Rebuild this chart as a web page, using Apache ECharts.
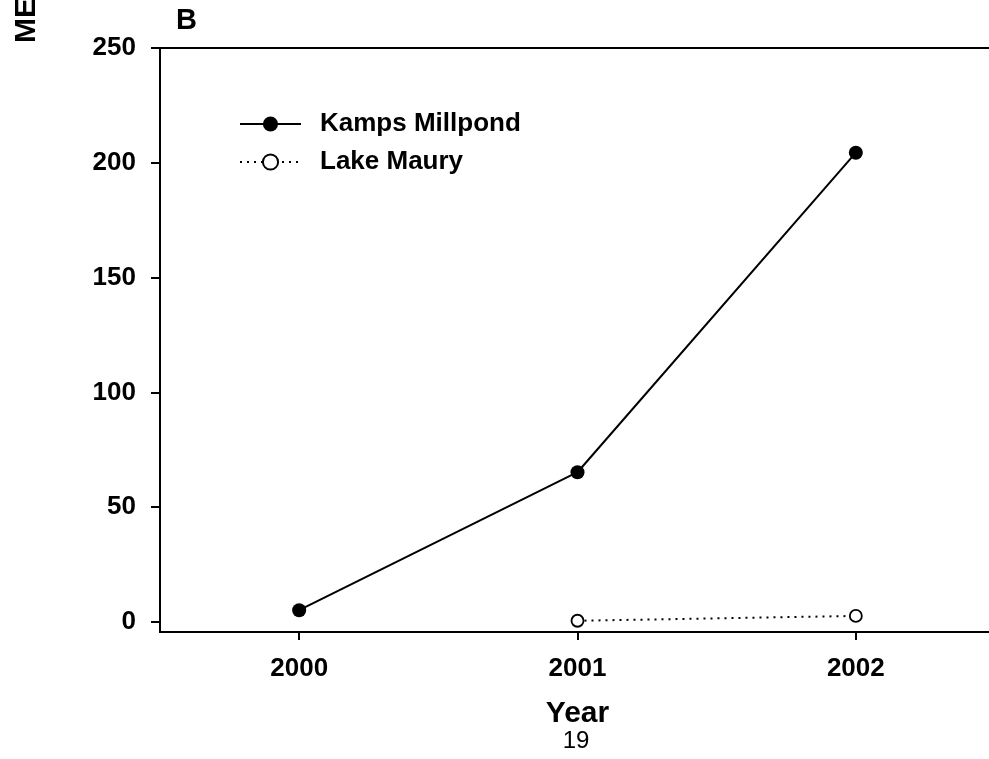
<!DOCTYPE html>
<html>
<head>
<meta charset="utf-8">
<script src="https://cdn.jsdelivr.net/npm/echarts@6/dist/echarts.min.js"></script>
<style>
html,body{margin:0;padding:0;background:#fff;}
#chart{width:989px;height:759px;}
</style>
</head>
<body>
<div id="chart"></div>
<script>
// Data
var years = [2000, 2001, 2002];
var kampsMillpond = [5.1, 65.2, 204.4];
var lakeMaury = [null, 0.5, 2.6];
var yTicks = [0, 50, 100, 150, 200, 250];
var xTicks = [2000, 2001, 2002];
var seriesNames = ['Kamps Millpond', 'Lake Maury'];

var FONT = '"Liberation Sans", Arial, sans-serif';

function pairs(xs, ys) {
  var out = [];
  for (var i = 0; i < xs.length; i++) {
    if (ys[i] !== null) out.push([xs[i], ys[i]]);
  }
  return out;
}

var chart = echarts.init(document.getElementById('chart'), null, {renderer: 'canvas'});
chart.setOption({
  animation: false,
  backgroundColor: '#ffffff',
  grid: {
    left: 160, top: 48, bottom: 127, width: 835,
    outerBoundsMode: 'none',
    containLabel: false,
    show: true, borderColor: '#000', borderWidth: 2, backgroundColor: 'transparent'
  },
  legend: {
    orient: 'vertical',
    left: 234, top: 106,
    itemWidth: 61, itemHeight: 19,
    itemGap: 12,
    textStyle: {fontFamily: FONT, fontWeight: 'bold', fontSize: 26, color: '#000', lineHeight: 26, padding: [0, 0, 0, 14]},
    data: seriesNames
  },
  xAxis: {
    type: 'value',
    min: 1999.5, max: 2002.5,
    name: 'Year',
    nameLocation: 'middle',
    nameGap: 67,
    nameTextStyle: {fontFamily: FONT, fontWeight: 'bold', fontSize: 30, color: '#000'},
    axisLine: {show: true, onZero: false, lineStyle: {color: '#000', width: 2}},
    axisTick: {show: true, length: 8, customValues: xTicks, lineStyle: {color: '#000', width: 2}},
    axisLabel: {
      customValues: xTicks, margin: 24,
      fontFamily: FONT, fontWeight: 'bold', fontSize: 26, color: '#000',
      formatter: function (v) { return String(v); }
    },
    splitLine: {show: false}
  },
  yAxis: {
    type: 'value',
    min: -4.4, max: 250,
    axisLine: {show: true, onZero: false, lineStyle: {color: '#000', width: 2}},
    axisTick: {show: true, length: 9, customValues: yTicks, lineStyle: {color: '#000', width: 2}},
    axisLabel: {
      customValues: yTicks, margin: 24,
      fontFamily: FONT, fontWeight: 'bold', fontSize: 26, color: '#000'
    },
    splitLine: {show: false}
  },
  series: [
    {
      name: seriesNames[0], type: 'line',
      data: pairs(years, kampsMillpond),
      symbol: 'circle', symbolSize: 14,
      lineStyle: {color: '#000', width: 2},
      itemStyle: {color: '#000', borderColor: '#000', borderWidth: 0}
    },
    {
      name: seriesNames[1], type: 'line',
      data: pairs(years, lakeMaury),
      symbol: 'circle', symbolSize: 12,
      lineStyle: {color: '#000', width: 2, type: [2, 5]},
      itemStyle: {color: '#fff', borderColor: '#000', borderWidth: 1.8}
    }
  ],
  graphic: [
    {
      type: 'text', left: 176, top: 6,
      style: {text: 'B', font: 'bold 29px ' + FONT, fill: '#000'}
    },
    {
      type: 'text', x: 27, y: 43, rotation: Math.PI / 2,
      style: {text: 'ME', font: 'bold 30px ' + FONT, fill: '#000', textAlign: 'left', textVerticalAlign: 'middle'}
    },
    {
      type: 'text', x: 576, y: 753,
      style: {text: '19', font: '24px ' + FONT, fill: '#000', textAlign: 'center', textVerticalAlign: 'bottom'}
    }
  ]
});
</script>
</body>
</html>
